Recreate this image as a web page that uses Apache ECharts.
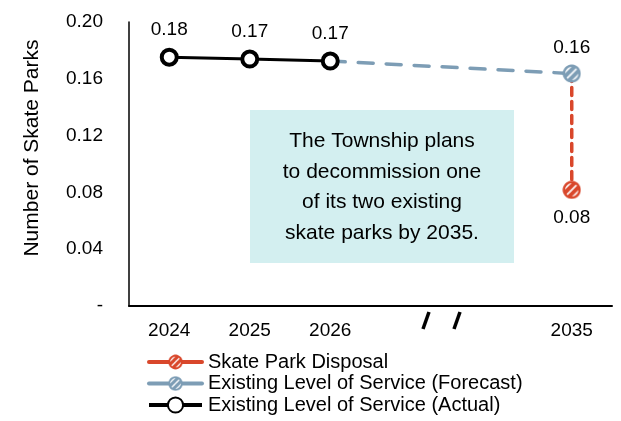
<!DOCTYPE html>
<html>
<head>
<meta charset="utf-8">
<script src="https://cdn.jsdelivr.net/npm/echarts@6/dist/echarts.min.js"></script>
<style>
  html, body { margin: 0; padding: 0; background: #ffffff; }
  #chart { width: 621px; height: 421px; }
</style>
</head>
<body>
<div id="chart"></div>
<script>
// Categories along the x axis (two unlabeled slots stand in for the skipped years)
var years = ['2024', '2025', '2026', ' ', '  ', '2035'];
// Skate parks per 1,000 residents
var actual = [0.1752, 0.1739, 0.1725, null, null, null];
var forecastStart = 0.1725;   // forecast continues from the last actual year
var forecastEnd = 0.1637;     // 2035 with existing parks
var disposalEnd = 0.0818;     // 2035 after one park is decommissioned
var yTicks = [0, 0.04, 0.08, 0.12, 0.16, 0.20];

var FONT = '"Liberation Sans", Arial, sans-serif';
var RED = '#d9472b';
var BLUE = '#7d9db5';

// Round marker with white diagonal hatching, returned as an image symbol
function hatchedDot(color) {
  var s = 40, r = s / 2;
  var c = document.createElement('canvas');
  c.width = s; c.height = s;
  var g = c.getContext('2d');
  g.beginPath();
  g.arc(r, r, r - 1, 0, Math.PI * 2);
  g.fillStyle = color;
  g.fill();
  g.save();
  g.beginPath();
  g.arc(r, r, r - 6, 0, Math.PI * 2);
  g.clip();
  g.strokeStyle = 'rgba(255,255,255,0.9)';
  g.lineWidth = 4;
  [-12, 0, 12].forEach(function (d) {
    var ox = d / Math.SQRT2, oy = d / Math.SQRT2;
    g.beginPath();
    g.moveTo(r + ox - 30, r + oy + 30);
    g.lineTo(r + ox + 30, r + oy - 30);
    g.stroke();
  });
  g.restore();
  return 'image://' + c.toDataURL();
}

function fmt(p) {
  var v = Array.isArray(p.value) ? p.value[1] : p.value;
  return v.toFixed(2);
}

var forecastData = years.map(function (y, i) {
  if (i === 2) return { value: forecastStart, symbol: 'none', label: { show: false } };
  if (i === years.length - 1) return forecastEnd;
  return null;
});

var chart = echarts.init(document.getElementById('chart'));
chart.setOption({
  animation: false,
  textStyle: { fontFamily: FONT },
  grid: { left: 129, right: 9, top: 22, bottom: 115 },
  legend: {
    orient: 'vertical',
    left: 147,
    top: 352,
    height: 80,
    itemWidth: 53,
    itemHeight: 19,
    itemGap: 1.5,
    padding: 0,
    textStyle: { fontSize: 20, color: '#000', fontFamily: FONT, lineHeight: 20, padding: [0, 0, 0, 1] },
    lineStyle: { type: 'solid', width: 4 },
    data: ['Skate Park Disposal', 'Existing Level of Service (Forecast)', 'Existing Level of Service (Actual)']
  },
  xAxis: {
    type: 'category',
    data: years,
    boundaryGap: true,
    axisLine: { lineStyle: { color: '#000', width: 2 } },
    axisTick: { show: false },
    axisLabel: { color: '#000', fontSize: 19, margin: 15, fontFamily: FONT, interval: 0 }
  },
  yAxis: {
    type: 'value',
    min: yTicks[0],
    max: yTicks[yTicks.length - 1],
    interval: 0.04,
    name: 'Number of Skate Parks',
    nameLocation: 'middle',
    nameGap: 86,
    nameTextStyle: { color: '#000', fontSize: 21, fontFamily: FONT, padding: [0, 0, 0, 32] },
    axisLine: { show: true, lineStyle: { color: '#000', width: 1.5 } },
    axisTick: { show: false },
    splitLine: { show: false },
    axisLabel: {
      color: '#000', fontSize: 19, margin: 26, fontFamily: FONT,
      formatter: function (v) { return v === 0 ? '-' : v.toFixed(2); }
    }
  },
  series: [
    {
      name: 'Skate Park Disposal',
      type: 'line',
      z: 2,
      data: [
        { value: ['2035', forecastEnd], symbol: 'none', label: { show: false } },
        ['2035', disposalEnd]
      ],
      symbol: hatchedDot(RED),
      symbolSize: 19,
      lineStyle: { color: RED, width: 3.5, type: [8, 6], cap: 'round' },
      itemStyle: { color: RED },
      label: { show: true, position: 'bottom', distance: 9, fontSize: 19, color: '#000', fontFamily: FONT, formatter: fmt }
    },
    {
      name: 'Existing Level of Service (Forecast)',
      type: 'line',
      z: 3,
      connectNulls: true,
      data: forecastData,
      symbol: hatchedDot(BLUE),
      symbolSize: 19,
      lineStyle: { color: BLUE, width: 3.5, type: [15, 13], cap: 'round' },
      itemStyle: { color: BLUE },
      label: { show: true, position: 'top', distance: 7, fontSize: 19, color: '#000', fontFamily: FONT, formatter: fmt }
    },
    {
      name: 'Existing Level of Service (Actual)',
      type: 'line',
      z: 4,
      data: actual,
      symbol: 'circle',
      symbolSize: 15,
      lineStyle: { color: '#000', width: 3 },
      itemStyle: { color: '#fff', borderColor: '#000', borderWidth: 4 },
      label: { show: true, position: 'top', distance: 8, fontSize: 19, color: '#000', fontFamily: FONT, formatter: fmt }
    }
  ],
  graphic: [
    {
      type: 'group',
      left: 250,
      top: 110,
      children: [
        { type: 'rect', shape: { x: 0, y: 0, width: 264, height: 153 }, style: { fill: '#d3eff0' } },
        {
          type: 'text',
          x: 132, y: 77,
          style: {
            text: 'The Township plans\nto decommission one\nof its two existing\nskate parks by 2035.',
            font: '21px ' + FONT,
            fill: '#000',
            align: 'center',
            verticalAlign: 'middle',
            lineHeight: 30.5
          }
        }
      ]
    },
    { type: 'line', shape: { x1: 423, y1: 329, x2: 429, y2: 312 }, style: { stroke: '#000', lineWidth: 3.5 } },
    { type: 'line', shape: { x1: 454, y1: 329, x2: 460, y2: 312 }, style: { stroke: '#000', lineWidth: 3.5 } }
  ]
});
</script>
</body>
</html>
